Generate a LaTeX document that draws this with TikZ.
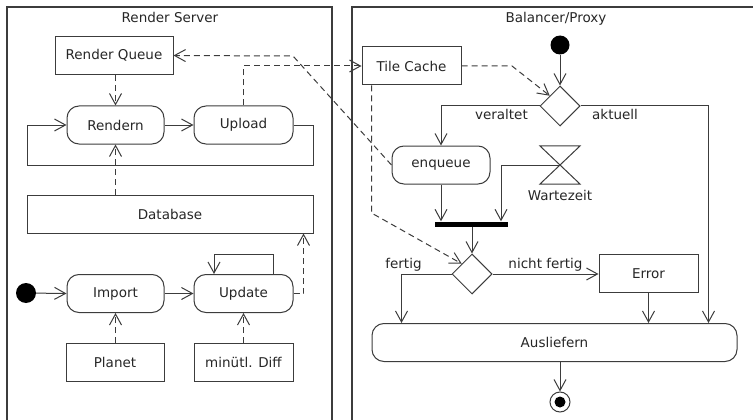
\documentclass[tikz,border=0pt]{standalone}
\usepackage{fontspec}
\setmainfont{DejaVu Sans}
\usetikzlibrary{arrows.meta,shapes.geometric}
\definecolor{lc}{HTML}{3C3C3C}
\definecolor{tc}{HTML}{262626}
\begin{document}
\begin{tikzpicture}[x=1pt,y=-1pt,
  >={Straight Barb[length=11pt,width=12pt,line width=1pt]},
  every node/.style={text=tc,font=\fontsize{13.5}{15}\selectfont},
  frame/.style={draw=lc,line width=1.1pt},
  box/.style={draw=lc,line width=1pt,inner sep=0pt,minimum height=38pt},
  act/.style={box,rounded corners=12pt},
  flow/.style={draw=lc,line width=1pt,->},
  dep/.style={flow,dash pattern=on 6pt off 4pt},
  lbl/.style={inner sep=0pt,text height=10pt,text depth=3pt},
  start/.style={circle,fill=black,inner sep=0pt,minimum size=20pt},
  dec/.style={diamond,draw=lc,line width=1pt,inner sep=0pt,minimum width=40pt,minimum height=40pt,aspect=1}]
\useasboundingbox (0,0) rectangle (753,420);
\clip (0,0) rectangle (753,420);
% frames
\draw[frame] (7,425) -- (7,7) -- (332,7) -- (332,425);
\draw[frame] (352,425) -- (352,7) -- (760,7);
\node[lbl] (t1) at (170,19) {Render Server};
\node[lbl] (t2) at (556,19) {Balancer/Proxy};
% Render server
\node[box,minimum width=118pt] (rq) at (114,55.5) {Render Queue};
\node[act,minimum width=97pt] (rend) at (115.5,125) {Rendern};
\node[act,minimum width=99pt] (upl) at (243.5,125) {Upload};
\node[box,minimum width=286pt] (db) at (170,214) {Database};
\node[start] (init1) at (26,293) {};
\node[act,minimum width=97pt] (imp) at (115.5,293.5) {Import};
\node[act,minimum width=99pt] (upd) at (243.5,293.5) {Update};
\node[box,minimum width=98pt] (planet) at (115,362.5) {Planet};
\node[box,minimum width=99pt] (diff) at (243.5,362.5) {minütl. Diff};
% Balancer
\node[box,minimum width=99pt] (tcache) at (411.5,66) {Tile Cache};
\node[start,minimum size=19pt] (init2) at (560,45) {};
\node[dec] (dec1) at (560,106) {};
\node[act,minimum width=98pt] (enq) at (441,165) {enqueue};
\node[inner sep=0pt,minimum width=40pt,minimum height=38pt] (wait) at (560,165) {};
\draw[draw=lc,line width=1pt] (wait.north west) -- (wait.north east) -- (wait.south west) -- (wait.south east) -- cycle;
\node[lbl] (waitl) at (560,197) {Wartezeit};
\node[fill=black,inner sep=0pt,minimum width=73pt,minimum height=5pt] (bar) at (471,224) {};
\node[dec] (dec2) at (472,274) {};
\node[box,minimum width=99pt] (err) at (648.5,273.5) {Error};
\node[act,minimum width=365pt] (aus) at (554.5,342.5) {Ausliefern};
\node[circle,draw=lc,line width=1pt,fill=white,inner sep=0pt,minimum size=20pt] (fin) at (560,402) {};
\fill[black] (fin.center) circle (5.5pt);
% labels
\node[lbl,anchor=east] (lv) at (528,116.5) {veraltet};
\node[lbl,anchor=west] (la) at (592,116.5) {aktuell};
\node[lbl] (lf) at (403.5,265) {fertig};
\node[lbl] (ln) at (545.5,265) {nicht fertig};
% connectors render server
\draw[flow] (rend) -- (upl);
\draw[flow] (upl.east) -- (313,125) |- (27,165) |- (rend.west);
\draw[dep] (rend.north |- rq.south) -- (rend.north);
\draw[dep] (rend.south |- db.north) -- (rend.south);
\draw[dep] (upl.north) |- (tcache.west);
\draw[dep] (enq.west) -- (293,56) -- (rq.east);
\draw[flow] (init1) -- (imp.west);
\draw[flow] (imp) -- (upd);
\draw[flow] ([xshift=29.5pt]upd.north) -- ++(0,-20) -| ([xshift=-29.5pt]upd.north);
\draw[dep] (upd.east) -| ([xshift=-10pt]db.south east);
\draw[dep] (imp.south |- planet.north) -- (imp.south);
\draw[dep] (upd.south |- diff.north) -- (upd.south);
% connectors balancer
\draw[dep] (tcache.east) -- (512,66) -- (dec1.north west);
\draw[flow] (init2) -- (dec1.north);
\draw[flow] (dec1.west) -| (enq.north);
\draw[flow] (dec1.east) -| ([xshift=-29pt]aus.north east);
\draw[flow] (enq.south) -- (enq.south |- bar.north);
\draw[flow] (wait.center) -| ([xshift=30pt]bar.north);
\draw[flow] (dec2.north |- bar.south) -- (dec2.north);
\draw[dep] ([xshift=10pt]tcache.south west) -- ([xshift=10pt]tcache.south west |- 0,213) -- (dec2.north west);
\draw[flow] (dec2.west) -| ([xshift=30pt]aus.north west);
\draw[flow] (dec2.east) -- (err.west |- dec2.east);
\draw[flow] (err.south) -- (err.south |- aus.north);
\draw[flow] (fin.north |- aus.south) -- (fin.north);
\end{tikzpicture}
\end{document}
